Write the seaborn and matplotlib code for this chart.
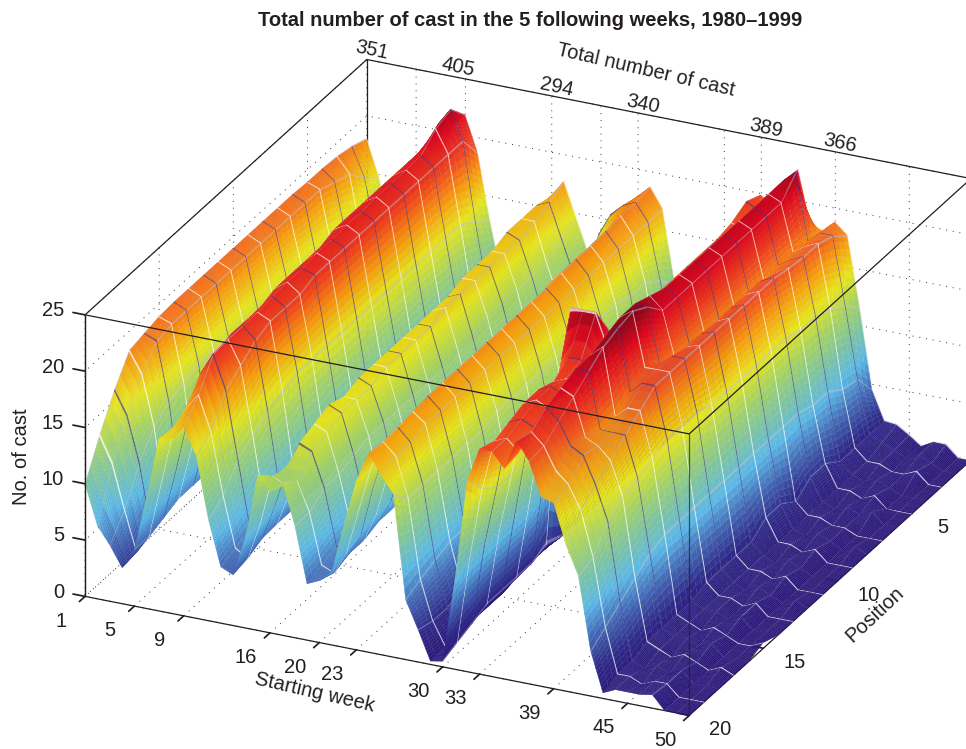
#!/usr/bin/env python3
import numpy as np
import matplotlib
matplotlib.use("Agg")
import matplotlib.pyplot as plt
import seaborn as sns
from mpl_toolkits.mplot3d import proj3d

# Number of cast per starting week (1..50), one list per position
pos_01 = [18,14.8,10,6,6,15,17,20.5,21.8,18.7,12.9,8,6,10,13,16,17.7,14.7,11.7,12,14,15.5,17.6,18.7,17,10.5,5,2,1,2,8,15,19.9,19,17,22.8,18,17.8,18.8,17.8,11.6,4.5,2,1.9,1.2,0.4,1,1,0,0]
pos_02 = [18.5,16,11,6,6,14,18,22,23.5,21,14,8,6,10,13.5,16.5,17,14,11,10,15,17,18,18.5,17,12,6,2.5,1,2,8,15,20.5,20,17,23,24,18,19,19,13,6.7,2,1.5,1,0.5,1,0.5,0,0]
pos_03 = [18.8,17.5,12,6.5,6.5,13,17,21,23,21,15,8.5,6,10,14,16.5,16.5,13,10,8,10,14,17,18.5,17,13,7,3,1,2,8,15,19.8,19.5,17,23,22.5,18.3,19,19.5,14,7,2,1,1,0.5,0.5,1,0,0]
pos_04 = [18.9,18,13,7,6.5,12,17,21,21.8,21,15,9,6,10,14,16.5,16,13,9.5,7,9,13.5,17,18.3,17,13,7,3,1,2,8,15,19.5,19.5,17,23,22.5,18.3,19,19.5,14.5,8,2,1,0.5,1,0.5,0,0,0]
pos_05 = [18.9,18.5,13.5,7,6.5,12,17,21,21.7,21,15,9,6,10,14,16,16,13,9,7,9,13,17,18.2,17,13.5,7.5,3,1,2,8,15,19.5,19.5,17,23,22.5,18.3,19,19.7,14.5,8,3,1,1,0.5,1,0,0,0]
pos_06 = [19,18.5,13.5,7,6.5,12,17,21,21.7,21,15,9,6,9.5,14,16,16,13,9,6.5,9,13,17,18.2,17,13.5,7.5,3,1,2,8,15,19.5,19.5,17,23,22.5,18.3,19.5,20,15,8.5,3,1,0.5,1,0.5,1,0,0]
pos_07 = [19,18.5,14,7,6.5,12,17,21,21.7,21,15,9,6,9.5,14,16,16,13,9,6.5,9,13,17,18.2,17,13.5,7.5,3,1,2,8,15,19.5,19.5,17,23,22.5,18.3,19.5,20,15,8.5,2,1,1,0.5,0.5,0,0,0]
pos_08 = [19,18.5,14,7,6.5,11.5,16.5,21,21.6,21,15,9,6,9.5,13.5,15.5,16,12.5,8.5,6.5,9,13,16.5,18,17,13.5,8,3,1,2,8,15,19.5,19.5,17,23,22.5,18.3,19.5,20,15,8.5,3,1,0.5,1,0.5,0,0.5,0]
pos_09 = [19,18.5,14,7,6.5,11.5,16.5,21,21.6,21,15,9,6,9.5,13.5,15.5,16,12.5,8.5,6.5,9,13,16.5,18,17,13.5,8,3,1,2,8,15,19.5,19.5,17,23,22.5,18.3,19.5,20,15,8.5,3,1,1,0.5,1,0,0,0]
pos_10 = [19,18.5,14,6.5,6.5,11,16,20.5,21.5,21,15,8.5,6,9,13,15.5,15.5,12,8,6,8.5,12.5,16,18,17,13.5,8,3,1,2,8,15,19.5,19.5,17.5,23,22.5,18.5,19.6,20,15,8.5,2,1,0.5,1,0.5,0,0,0]
pos_11 = [19,18.5,14,6.5,6.5,11,16,20.5,21.5,21,15,8.5,6,9,13,15.5,15.5,12,8,6,8.5,12.5,16,18,17,13.5,8,3,1,2,9,16,19.5,19.5,18,23.5,22.5,18.5,19.6,20,15,8.5,2,1,1,0.5,1,0,0,0]
pos_12 = [19,18.5,14,6.5,6.5,11,16,20.5,21.3,21,15,8.5,6,9,13,15.5,15.5,12,8,6,8.5,12.5,16,18,17,13.5,8,3,1,2,12,18,21,21,19,24,24,19,20,20,15.5,8.5,2,1,0.5,1,0.5,0,0.5,0]
pos_13 = [19,18.5,14,6,6.5,11,16,20.5,21.3,20.5,15,8,6,9,13,15.5,15.5,12,8,6,8.5,12.5,16,18,17,13.5,7.5,3,1,2.5,18,24,24,24,21,24,24.8,20,20,20,15.5,8.5,2,1,1,0.5,1,0,0,0]
pos_14 = [19,18.5,14,6,6,11,16,20,21.2,20.5,15,8,5.5,9,13,15.5,15,12,7.5,6,8.5,12.5,16,18,17,13,7.5,3,1,2,10,18,21,21,20,23.5,24.5,19,20,20,15.5,8.5,1.5,1,1,0.5,1,0,0,0]
pos_15 = [18.9,18.5,13.5,5.5,6,10.5,16,20,21,20.5,14.5,7,5.5,9,13,15,15,12,7,6,8,12.5,16,18,17,13,7,3,0.5,2,8.7,16,20,20.5,20,23,24,18,19,19,15,8.5,1.5,1,0.5,1,0.5,0,0,0.5]
pos_16 = [18.6,18.2,13,5.1,6,10.5,15.5,20,21,20,14,7,5.5,9,13,15.5,15,11.5,7,6,8,12,16,18,17,13,7,3,0.5,2,8.7,15,20.5,21,20.5,23,23,18,18,18,14.5,8,1.5,1,1,0.5,1,0,0,0]
pos_17 = [18.3,16.5,12,4.8,6,10.5,15.5,19.5,21,19,13,6.5,5.5,8.5,12.5,15,14.5,11,6.5,5.5,8,12,16,17.8,17,13,7,3,0.5,2,8.7,14,20.5,21,20.5,22.5,22,18.5,18,17,14,7,1.5,1,0.5,1,0.5,0,0.5,0]
pos_18 = [16,14,10,4,5.5,10,15,19,20.9,18,12,6,5.4,8.5,12,14.5,14,11,6,5.5,7.5,12,15.5,17.6,16.5,13,6.5,2.5,0.5,1.5,8.7,14,20,20.5,20,22,21,19,18.4,16,13,6,1,0.5,1,0.5,1,0,0,0]
pos_19 = [13.2,11,7,3.4,5,10,15,17,18.5,15.5,10,5.5,4.8,8,12.5,12,12.5,10,5.5,5,7,11,15,17.5,16.5,13,6,2.5,0.5,1,8.7,15,19.5,20,19,21,20,18,17,15,11,5,1,1,0.5,1,1,0,0,0]
pos_20 = [10,6.5,5,3.2,5,10,15.3,15.5,16.8,14.5,9,5,4.5,8,13.8,12.5,13.6,10,5,5.5,6.4,11,15,17.7,16,14.5,5.3,2.9,0.3,0.5,8,17,20,20,18.7,21.4,19.8,16.8,16.5,13,10.5,4,0.5,1,1,1,1.2,0,0,0]

week_ticks = [1, 5, 9, 16, 20, 23, 30, 33, 39, 45, 50]
position_ticks = [5, 10, 15, 20]
cast_ticks = [0, 5, 10, 15, 20, 25]
total_weeks = [1, 8, 16, 23, 33, 39]
total_labels = ["351", "405", "294", "340", "389", "366"]

sns.set_theme(style="white")
plt.rcParams["font.family"] = ["Liberation Sans", "DejaVu Sans"]
plt.rcParams["text.color"] = "#231f20"
plt.rcParams["axes.labelcolor"] = "#231f20"
plt.rcParams["xtick.color"] = "#231f20"
plt.rcParams["ytick.color"] = "#231f20"
plt.rcParams["grid.color"] = "#333333"
plt.rcParams["grid.linestyle"] = (0, (1, 6))
plt.rcParams["grid.linewidth"] = 0.7

cmap = sns.blend_palette(["#2a1678", "#302a88", "#4468b4", "#5cb8e6", "#7cc3a5", "#a5d264",
                          "#e6e41e", "#f59c10", "#ee4520", "#d80820", "#6e0a18"], as_cmap=True)

weeks = np.arange(1, 51)
positions = np.arange(1, 21)
cast = np.array([pos_01, pos_02, pos_03, pos_04, pos_05, pos_06, pos_07, pos_08, pos_09, pos_10,
                 pos_11, pos_12, pos_13, pos_14, pos_15, pos_16, pos_17, pos_18, pos_19, pos_20], dtype=float)

# subdivide each facet only for shading, with thin strips for the mesh lines
line_w = 0.025
line_p = 0.05
week_steps = np.array([0, line_w, 0.1, 0.2, 0.3, 0.4, 0.5, 0.6, 0.7, 0.8, 0.9])
fine_w = np.concatenate([w + week_steps for w in weeks[:-1]] + [[50.0]])
fine_p = np.concatenate([p + np.array([0, line_p, 0.3, 0.65]) for p in positions[:-1]] + [[20.0]])
rows = np.array([np.interp(fine_w, weeks, r) for r in cast])
fine_z = np.array([np.interp(fine_p, positions, c) for c in rows.T]).T
W, P = np.meshgrid(fine_w, fine_p)

mid_z = (fine_z[:-1, :-1] + fine_z[1:, :-1] + fine_z[:-1, 1:] + fine_z[1:, 1:]) / 4
colors = cmap(mid_z / 25.0)
is_w_line = np.isin(np.round(fine_w[:-1], 3), weeks)
colors[:, is_w_line] = colors[:, is_w_line] * 0.5 + np.array([0.72, 0.74, 0.85, 1]) * 0.5
is_white = np.isin(np.round(fine_p[:-1], 3), positions[::2])
is_dark = np.isin(np.round(fine_p[:-1], 3), positions[1::2])
colors[is_white, :] = colors[is_white, :] * 0.25 + 0.75
colors[is_dark, :] = colors[is_dark, :] * 0.3 + np.array([0.25, 0.2, 0.55, 1]) * 0.7
colors[..., 3] = 1

fig = plt.figure(figsize=(9.66, 7.49), dpi=100)
ax = fig.add_axes([14.5 / 966, -152 / 749, 1000 / 966, 1000 / 749], projection="3d", computed_zorder=False)
ax.set_proj_type("ortho")
ax.view_init(elev=25, azim=-65)
ax.set_box_aspect((1, 1, 0.466), zoom=0.9636)
ax.set_xlim(1, 50, view_margin=0)
ax.set_ylim(20, 1, view_margin=0)
ax.set_zlim(0, 25, view_margin=0)

ax.plot_surface(W, P, fine_z, facecolors=colors, rstride=1, cstride=1, shade=False,
                linewidth=0.2, antialiased=True, zorder=2)

for axis in (ax.xaxis, ax.yaxis, ax.zaxis):
    axis.set_pane_color((1, 1, 1, 0))
    axis.line.set_color("#231f20")
    axis.line.set_linewidth(0.9)
    axis._axinfo["tick"]["inward_factor"] = 0.0
    axis._axinfo["tick"]["outward_factor"] = 0.25
ax.zaxis._axinfo["juggled"] = (1, 2, 0)
ax.xaxis._axinfo["tick"]["inward_factor"] = 0.25
ax.xaxis._axinfo["tick"]["outward_factor"] = 0.0

ax.set_xticks(week_ticks)
ax.set_yticks(position_ticks)
ax.set_zticks(cast_ticks)
ax.xaxis.set_major_formatter(plt.NullFormatter())
ax.yaxis.set_major_formatter(plt.NullFormatter())
ax.zaxis.set_major_formatter(plt.NullFormatter())
ax.set_xlabel("")
ax.set_ylabel("")

# box edges not covered by the axis lines
front = dict(color="#231f20", lw=0.9, zorder=5)
back = dict(color="#231f20", lw=0.9, zorder=1)
ax.plot([1, 50], [20, 20], [25, 25], **front)
ax.plot([50, 50], [20, 20], [0, 25], color="#231f20", lw=0.9, alpha=0.7, zorder=5)
ax.plot([50, 50], [20, 1], [25, 25], **front)
ax.plot([1, 1], [20, 20], [0, 25], **front)
ax.plot([1, 1], [20, 1], [25, 25], **back)
ax.plot([1, 50], [1, 1], [25, 25], **back)
ax.plot([1, 1], [1, 1], [0, 25], **back)

label_size = 14.5
proj = ax.get_proj()


def label_at(x, y, z, s, **kw):
    # flat text placed at the projected data point
    px, py, _ = proj3d.proj_transform(x, y, z, proj)
    ax.text2D(px, py, s, transform=ax.transData, fontsize=label_size, va="center", **kw)


for z in cast_ticks:
    label_at(-0.7, 20, z, str(z), ha="right")
for w in week_ticks:
    label_at(w + 0.2, 21.8, 0.0, str(w), ha="center")
for p in position_ticks:
    label_at(52.5, p, -0.7, str(p), ha="center")
for w, lab in zip(total_weeks, total_labels):
    label_at(w + 0.4, 1, 25.9, lab, rotation=-12, ha="center")

fig.text(315 / 966, 1 - 692 / 749, "Starting week", rotation=-13, ha="center", va="center", fontsize=label_size)
fig.text(875 / 966, 1 - 615 / 749, "Position", rotation=43, ha="center", va="center", fontsize=label_size)
fig.text(22 / 966, 1 - 457 / 749, "No. of cast", rotation=90, ha="center", va="center", fontsize=label_size)
fig.text(646 / 966, 1 - 70 / 749, "Total number of cast", rotation=-13, ha="center", va="center", fontsize=label_size)
fig.text(530 / 966, 1 - 21 / 749, "Total number of cast in the 5 following weeks, 1980\u20131999",
         ha="center", va="center", fontsize=14.5, fontweight="bold")

fig.savefig("out.png", dpi=100)
